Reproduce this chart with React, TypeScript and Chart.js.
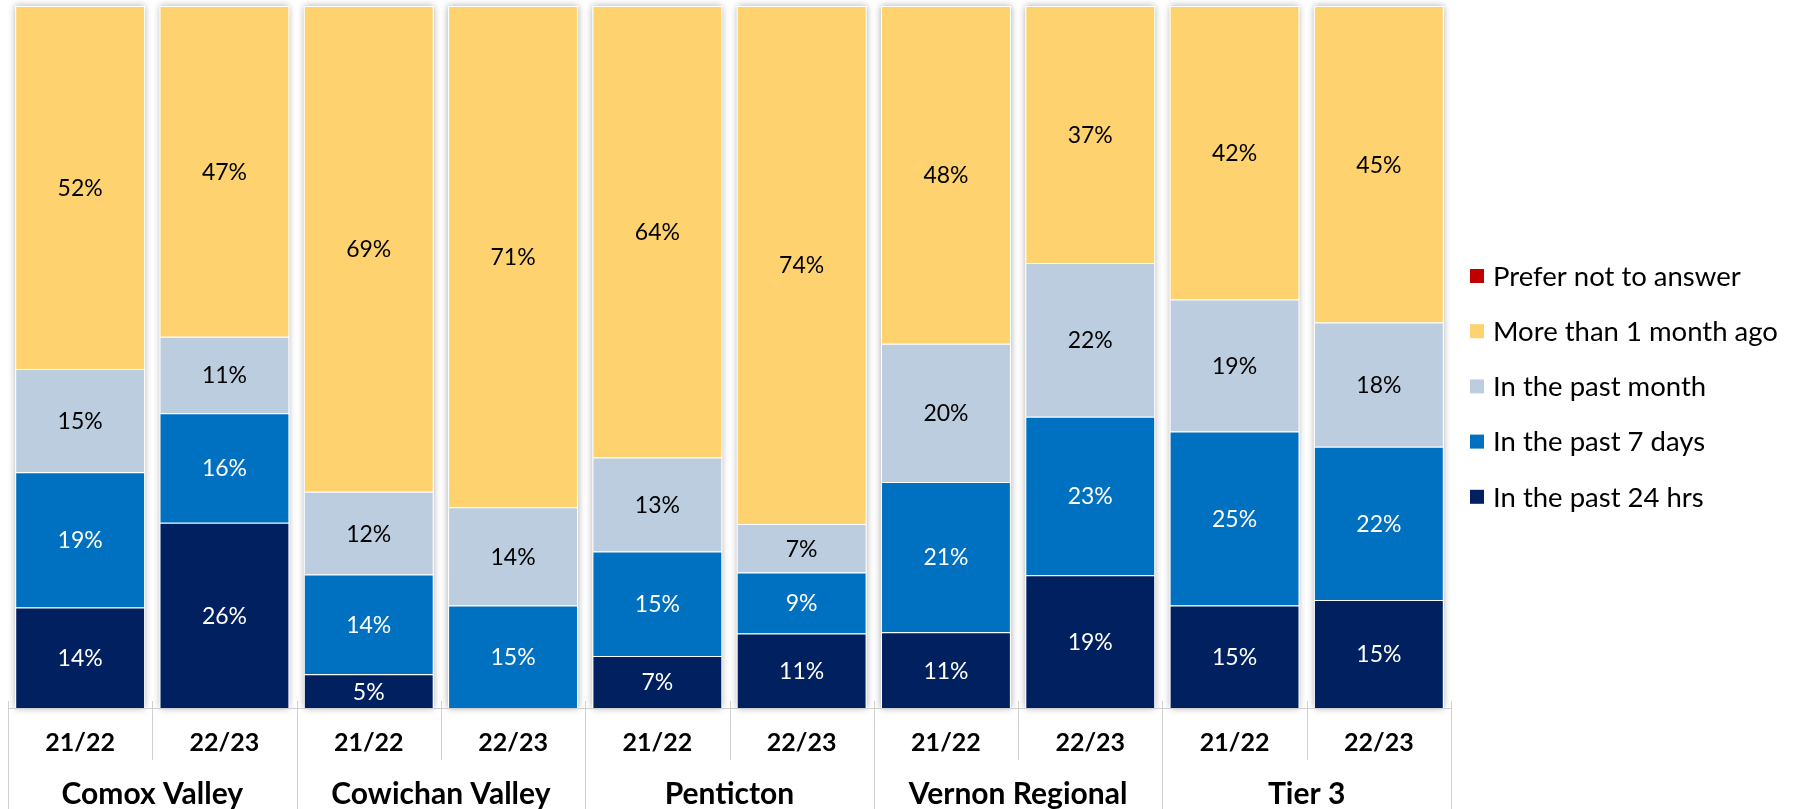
import React, { useEffect, useRef } from "react";
import { Chart, registerables } from "chart.js";

Chart.register(...registerables);

const groups = ["Comox Valley", "Cowichan Valley", "Penticton", "Vernon Regional", "Tier 3"];
const years = ["21/22", "22/23"];
const categories = groups.flatMap((g) => years.map((y) => `${g} ${y}`));

const seriesNames = [
  "In the past 24 hrs",
  "In the past 7 days",
  "In the past month",
  "More than 1 month ago",
  "Prefer not to answer",
];
const seriesColors = ["#002060", "#0070C0", "#BCCDE0", "#FED36F", "#C00000"];
const labelColors = ["#ffffff", "#ffffff", "#000000", "#000000", "#ffffff"];

const past24hrs = [14.3, 26.4, 4.8, 0, 7.4, 10.6, 10.8, 18.9, 14.6, 15.4];
const past7days = [19.3, 15.6, 14.2, 14.6, 14.9, 8.7, 21.4, 22.6, 24.8, 21.8];
const pastMonth = [14.7, 10.9, 11.8, 14.0, 13.4, 6.9, 19.7, 21.9, 18.8, 17.7];
const moreThanMonth = [51.7, 47.1, 69.2, 71.4, 64.3, 73.8, 48.1, 36.6, 41.8, 45.1];
const preferNot = [0, 0, 0, 0, 0, 0, 0, 0, 0, 0];

const seriesValues = [past24hrs, past7days, pastMonth, moreThanMonth, preferNot];

const FONT = "Lato, 'Open Sans', sans-serif";

const shadowPlugin = {
  id: "barShadow",
  beforeDatasetsDraw(chart: any) {
    const ctx = chart.ctx;
    const n = chart.data.labels.length;
    ctx.save();
    for (let i = 0; i < n; i++) {
      let top = Infinity, bottom = -Infinity, left = 0, right = 0;
      chart.data.datasets.forEach((_: any, d: number) => {
        const el: any = chart.getDatasetMeta(d).data[i];
        if (!el) return;
        const p = el.getProps(["x", "y", "base", "width"], true);
        top = Math.min(top, p.y, p.base);
        bottom = Math.max(bottom, p.y, p.base);
        left = p.x - p.width / 2;
        right = p.x + p.width / 2;
      });
      ctx.shadowColor = "rgba(0,0,0,0.35)";
      ctx.shadowBlur = 7;
      ctx.shadowOffsetX = 0;
      ctx.shadowOffsetY = 0;
      ctx.fillStyle = "#ffffff";
      ctx.fillRect(left, top, right - left, bottom - top);
    }
    ctx.restore();
  },
};

const dataLabelPlugin = {
  id: "segLabels",
  afterDatasetsDraw(chart: any) {
    const ctx = chart.ctx;
    ctx.save();
    ctx.font = `23px ${FONT}`;
    ctx.textAlign = "center";
    ctx.textBaseline = "middle";
    chart.data.datasets.forEach((ds: any, d: number) => {
      const meta = chart.getDatasetMeta(d);
      meta.data.forEach((el: any, i: number) => {
        const v = ds.data[i];
        if (!v) return;
        const p = el.getProps(["x", "y", "base"], true);
        ctx.fillStyle = labelColors[d];
        ctx.fillText(`${Math.round(v)}%`, p.x, (p.y + p.base) / 2 + 1);
      });
    });
    ctx.restore();
  },
};

const axisPlugin = {
  id: "groupAxis",
  afterDraw(chart: any) {
    const ctx = chart.ctx;
    const xs = chart.scales.x;
    const area = chart.chartArea;
    const n = categories.length;
    const step = (xs.right - xs.left) / n;
    ctx.save();
    ctx.strokeStyle = "#d0d0d0";
    ctx.lineWidth = 1;
    ctx.beginPath();
    ctx.moveTo(xs.left, Math.round(area.bottom) + 0.5);
    ctx.lineTo(xs.right, Math.round(area.bottom) + 0.5);
    ctx.stroke();
    for (let k = 0; k <= n; k++) {
      const x = Math.round(xs.left + k * step) + 0.5;
      const isGroup = k % years.length === 0;
      ctx.beginPath();
      ctx.moveTo(x, area.bottom - 7);
      ctx.lineTo(x, isGroup ? chart.height : area.bottom + 52);
      ctx.stroke();
    }
    ctx.fillStyle = "#000000";
    ctx.textAlign = "center";
    ctx.textBaseline = "middle";
    ctx.font = `bold 25px ${FONT}`;
    for (let i = 0; i < n; i++) {
      ctx.fillText(years[i % years.length], xs.getPixelForValue(i), area.bottom + 35);
    }
    ctx.font = `bold 30px ${FONT}`;
    groups.forEach((g, gi) => {
      const a = xs.getPixelForValue(gi * years.length);
      const b = xs.getPixelForValue(gi * years.length + years.length - 1);
      ctx.fillText(g, (a + b) / 2, area.bottom + 86);
    });
    ctx.restore();
  },
};

const legendPlugin = {
  id: "sideLegend",
  afterDraw(chart: any) {
    const ctx = chart.ctx;
    const area = chart.chartArea;
    ctx.save();
    ctx.font = `27.5px ${FONT}`;
    ctx.textAlign = "left";
    ctx.textBaseline = "middle";
    const items = chart.data.datasets.map((ds: any) => ({ label: ds.label, color: ds.backgroundColor })).reverse();
    const x0 = area.right + 19;
    const y0 = 276;
    const gap = 55.2;
    items.forEach((it: any, k: number) => {
      const y = y0 + k * gap;
      ctx.fillStyle = it.color;
      ctx.fillRect(x0, y - 7, 14, 14);
      ctx.fillStyle = "#000000";
      ctx.fillText(it.label, x0 + 23, y + 1);
    });
    ctx.restore();
  },
};

export default function App() {
  const ref = useRef<HTMLCanvasElement | null>(null);
  useEffect(() => {
    if (!ref.current) return;
    const chart = new Chart(ref.current, {
      type: "bar",
      data: {
        labels: categories,
        datasets: seriesNames.map((name, d) => ({
          label: name,
          data: seriesValues[d],
          backgroundColor: seriesColors[d],
          borderColor: "#ffffff",
          borderWidth: { top: 1, left: 1, right: 1, bottom: 0 },
          borderSkipped: false,
          barPercentage: 0.9,
          categoryPercentage: 1,
        })),
      },
      options: {
        responsive: false,
        animation: false,
        layout: { padding: { left: 8, top: 6, right: 344, bottom: 101 } },
        scales: {
          x: { stacked: true, display: false },
          y: { stacked: true, display: false, min: 0, max: 100 },
        },
        plugins: {
          legend: { display: false },
          tooltip: { enabled: false },
        },
      },
      plugins: [shadowPlugin, dataLabelPlugin, axisPlugin, legendPlugin],
    });
    return () => chart.destroy();
  }, []);
  return (
    <div style={{ position: "absolute", left: 0, top: 0, width: 1795, height: 809, background: "#fff" }}>
      <canvas ref={ref} width={1795} height={809} style={{ display: "block" }} />
    </div>
  );
}
